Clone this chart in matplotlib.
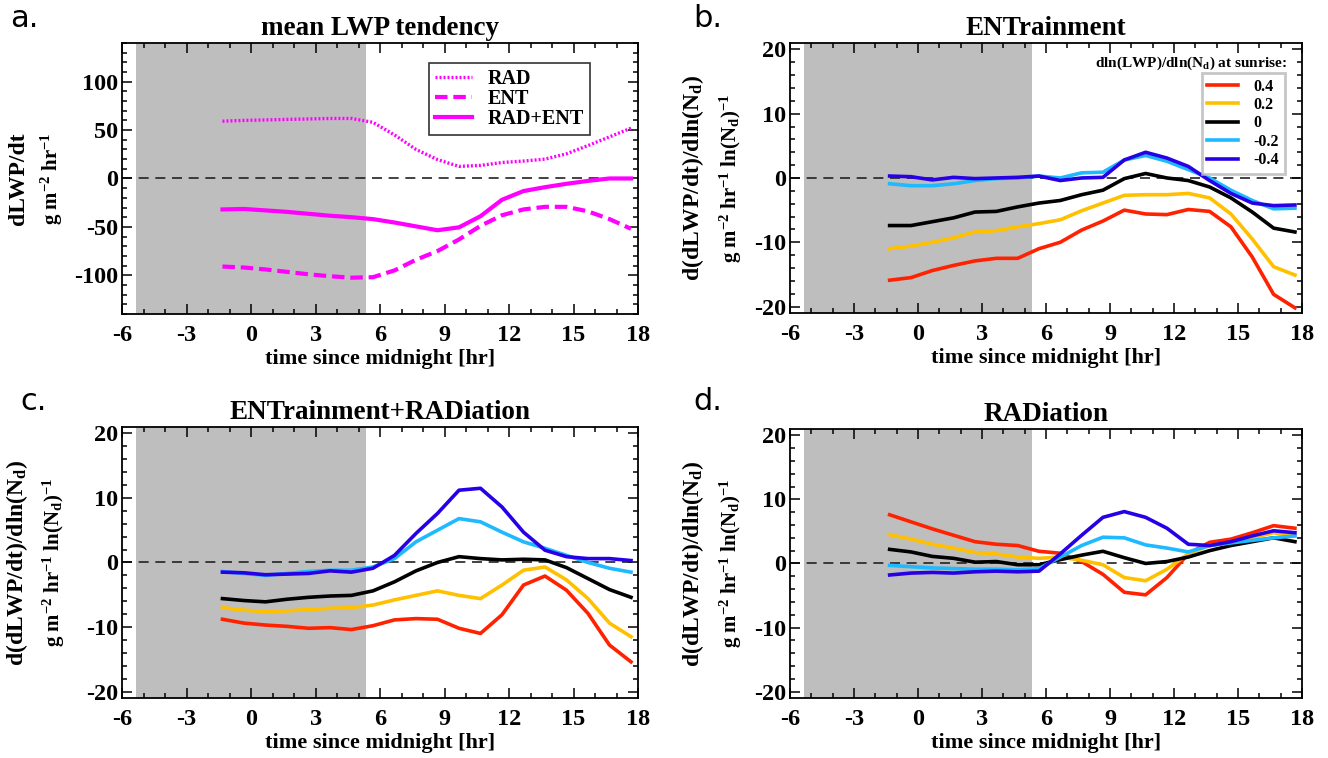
import matplotlib
matplotlib.use("Agg")
import matplotlib.pyplot as plt
from matplotlib.ticker import MultipleLocator

plt.rcParams['font.family'] = ['Liberation Serif', 'DejaVu Serif']
plt.rcParams['font.weight'] = 'bold'
plt.rcParams['axes.labelweight'] = 'bold'
plt.rcParams['axes.unicode_minus'] = False
plt.rcParams['mathtext.fontset'] = 'custom'
plt.rcParams['mathtext.rm'] = 'Liberation Serif:bold'
plt.rcParams['mathtext.it'] = 'Liberation Serif:bold'
plt.rcParams['mathtext.bf'] = 'Liberation Serif:bold'

# time axis (hours since midnight)
hours = [-1.33, -0.33, 0.67, 1.67, 2.67, 3.67, 4.67, 5.67, 6.67, 7.67,
         8.67, 9.67, 10.67, 11.67, 12.67, 13.67, 14.67, 15.67, 16.67, 17.67]
night = [-5.35, 5.35]

# panel a: mean LWP tendency
rad = [59.2, 60, 60.5, 61, 61.5, 62, 62, 58, 45, 30,
       19.5, 12.5, 13.5, 16.5, 18, 20, 25.5, 34, 43, 52]
ent = [-91, -92, -94, -96.5, -99, -101, -102.5, -102, -95, -84,
       -75, -63, -49, -38, -32, -29.3, -29.3, -34, -42, -52]
rad_ent = [-32, -31.5, -33, -34.5, -36.5, -38.5, -40, -42, -45.5, -49.5,
           -53.5, -50.5, -39, -22, -13, -9, -5.5, -2.5, 0, 0]

# sensitivity classes
sens_labels = ['0.4', '0.2', '0', '-0.2', '-0.4']
sens_colors = ['#ff2200', '#ffc000', '#000000', '#1eb9ff', '#2800e6']

# panel b: ENTrainment
b_p04 = [-15.9, -15.5, -14.4, -13.6, -12.9, -12.5, -12.5, -11.0, -10.0, -8.1,
         -6.7, -5.0, -5.6, -5.7, -4.9, -5.2, -7.6, -12.3, -18.1, -20.2]
b_p02 = [-11.0, -10.6, -10.0, -9.3, -8.4, -8.2, -7.6, -7.1, -6.5, -5.1,
         -3.9, -2.7, -2.6, -2.6, -2.4, -3.1, -5.6, -9.5, -13.8, -15.1]
b_0 = [-7.4, -7.4, -6.8, -6.2, -5.3, -5.2, -4.5, -3.9, -3.5, -2.6,
       -1.9, -0.1, 0.7, 0.0, -0.4, -1.4, -3.1, -5.3, -7.8, -8.4]
b_m02 = [-0.9, -1.2, -1.2, -0.9, -0.4, -0.1, 0.0, 0.3, 0.0, 0.8,
         0.9, 2.8, 3.5, 2.6, 1.3, 0.0, -1.9, -3.5, -4.8, -4.7]
b_m04 = [0.3, 0.2, -0.3, 0.1, -0.1, 0.0, 0.1, 0.3, -0.4, 0.0,
         0.1, 2.8, 4.0, 3.1, 1.8, -0.4, -2.4, -3.9, -4.3, -4.2]

# panel c: ENTrainment+RADiation
c_p04 = [-8.8, -9.4, -9.7, -9.9, -10.2, -10.1, -10.4, -9.8, -8.9, -8.7,
         -8.8, -10.2, -11.0, -8.1, -3.5, -2.1, -4.3, -7.9, -12.8, -15.4]
c_p02 = [-7.0, -7.4, -7.6, -7.5, -7.3, -7.1, -7.0, -6.6, -5.8, -5.1,
         -4.4, -5.1, -5.6, -3.5, -1.2, -0.7, -2.7, -5.6, -9.4, -11.5]
c_0 = [-5.6, -5.9, -6.1, -5.7, -5.4, -5.2, -5.1, -4.4, -3.0, -1.3,
       0.0, 0.9, 0.6, 0.4, 0.5, 0.4, -0.8, -2.5, -4.2, -5.4]
c_m02 = [-1.4, -1.7, -2.0, -1.7, -1.4, -1.2, -1.2, -0.7, 0.6, 3.2,
         5.0, 6.8, 6.3, 4.7, 3.2, 2.2, 1.1, 0.0, -0.9, -1.5]
c_m04 = [-1.5, -1.6, -1.9, -1.8, -1.7, -1.3, -1.5, -0.9, 1.1, 4.5,
         7.6, 11.2, 11.5, 8.6, 4.7, 1.9, 0.9, 0.6, 0.6, 0.3]

# panel d: RADiation
d_p04 = [7.6, 6.5, 5.4, 4.4, 3.4, 3.0, 2.8, 1.9, 1.6, 0.3,
         -1.7, -4.5, -4.9, -2.2, 1.5, 3.3, 3.8, 4.8, 5.9, 5.5]
d_p02 = [4.5, 3.8, 3.0, 2.4, 1.7, 1.5, 1.0, 0.8, 1.0, 0.5,
         -0.2, -2.2, -2.7, -0.9, 1.5, 2.8, 3.3, 4.0, 4.8, 4.3]
d_0 = [2.2, 1.8, 1.1, 0.8, 0.2, 0.3, -0.2, -0.2, 0.6, 1.3,
       1.9, 0.9, 0.0, 0.3, 1.0, 2.0, 2.8, 3.4, 4.0, 3.4]
d_m02 = [-0.3, -0.5, -0.7, -0.8, -0.9, -0.9, -1.0, -0.8, 1.0, 2.8,
         4.1, 4.0, 2.9, 2.4, 1.8, 2.8, 3.2, 3.6, 4.0, 4.3]
d_m04 = [-1.8, -1.5, -1.4, -1.5, -1.3, -1.2, -1.3, -1.2, 1.5, 4.4,
         7.2, 8.1, 7.2, 5.5, 3.0, 2.8, 3.4, 4.3, 5.1, 4.8]

fig = plt.figure(figsize=(13.28, 7.58), dpi=100)
ax_a = fig.add_axes([0.0919, 0.5858, 0.3886, 0.3575])
ax_b = fig.add_axes([0.5949, 0.5871, 0.3855, 0.3562])
ax_c = fig.add_axes([0.0919, 0.0792, 0.3886, 0.3575])
ax_d = fig.add_axes([0.5949, 0.0792, 0.3855, 0.3549])

ylab2 = r'g m$^{-2}$ hr$^{-1}$ ln(N$_{\rm d}$)$^{-1}$'


def style(ax, title, ymin, ymax, ymaj, ymin_step):
    ax.axvspan(night[0], night[1], color='#bebebe', lw=0, zorder=0)
    ax.axhline(0, color='#222222', lw=1.2, ls=(0, (6, 4)), zorder=1)
    ax.set_xlim(-6, 18)
    ax.set_ylim(ymin, ymax)
    ax.xaxis.set_major_locator(MultipleLocator(3))
    ax.xaxis.set_minor_locator(MultipleLocator(1))
    ax.yaxis.set_major_locator(MultipleLocator(ymaj))
    ax.yaxis.set_minor_locator(MultipleLocator(ymin_step))
    ax.tick_params(which='both', direction='in', top=True, right=True,
                   labelsize=17.5, width=1.1)
    ax.tick_params(axis='x', which='major', pad=8)
    ax.tick_params(axis='y', which='major', pad=3)
    ax.tick_params(which='major', length=7)
    ax.tick_params(which='minor', length=3.5)
    for s in ax.spines.values():
        s.set_linewidth(1.3)
    ax.set_title(title, fontsize=19.5, fontweight='bold', pad=6)
    ax.set_xlabel('time since midnight [hr]', fontsize=16, labelpad=2)


def sens_panel(ax, series, title, x1, x2):
    style(ax, title, -21, 21, 10, 2)
    for vals, col, lab in zip(series, sens_colors, sens_labels):
        ax.plot(hours, vals, color=col, lw=2.6, label=lab, zorder=3)
    ax.text(x1, 0.5, r'd(dLWP/dt)/dln(N$_{\rm d}$)', transform=ax.transAxes,
            rotation=90, ha='center', va='center', fontsize=17)
    ax.text(x2, 0.5, ylab2, transform=ax.transAxes,
            rotation=90, ha='center', va='center', fontsize=15)


# panel a
style(ax_a, 'mean LWP tendency', -140, 140, 50, 10)
ax_a.plot(hours, rad, color='#ff00ff', lw=2.4, ls=(0, (0.6, 0.6)), label='RAD', zorder=3)
ax_a.plot(hours, ent, color='#ff00ff', lw=3, ls=(0, (3, 1.4)), label='ENT', zorder=3)
ax_a.plot(hours, rad_ent, color='#ff00ff', lw=3, label='RAD+ENT', zorder=3)
ax_a.text(-0.2, 0.5, 'dLWP/dt', transform=ax_a.transAxes, rotation=90,
          ha='center', va='center', fontsize=17)
ax_a.text(-0.135, 0.5, r'g m$^{-2}$ hr$^{-1}$', transform=ax_a.transAxes, rotation=90,
          ha='center', va='center', fontsize=15)
leg = ax_a.legend(loc='upper right', bbox_to_anchor=(0.907, 0.926), borderaxespad=0,
                  fontsize=14.5, frameon=True, fancybox=False, edgecolor='black',
                  handlelength=1.8, borderpad=0.3, labelspacing=0.0, handletextpad=0.8)
leg.get_frame().set_linewidth(1.2)

# panel b
sens_panel(ax_b, [b_p04, b_p02, b_0, b_m02, b_m04], 'ENTrainment', -0.19, -0.115)
ax_b.text(0.97, 0.925, r'dln(LWP)/dln(N$_{\rm d}$) at sunrise:', transform=ax_b.transAxes,
          ha='right', va='center', fontsize=11)
leg = ax_b.legend(loc='upper right', bbox_to_anchor=(0.966, 0.889), borderaxespad=0,
                  fontsize=11.5, frameon=True, fancybox=False, edgecolor='#b8b8b8',
                  handlelength=1.9, borderpad=0.35, labelspacing=0.15, handletextpad=1.0)
leg.get_frame().set_linewidth(2)

# panel c
sens_panel(ax_c, [c_p04, c_p02, c_0, c_m02, c_m04], 'ENTrainment+RADiation', -0.203, -0.133)

# panel d
sens_panel(ax_d, [d_p04, d_p02, d_0, d_m02, d_m04], 'RADiation', -0.19, -0.115)

# panel letters
for lx, ly, letter in [(0.008, 0.995, 'a.'), (0.522, 0.995, 'b.'),
                       (0.015, 0.49, 'c.'), (0.522, 0.49, 'd.')]:
    fig.text(lx, ly, letter, fontsize=22, fontweight='normal', va='top', ha='left',
             family='DejaVu Sans')

fig.savefig('out.png', dpi=100)
